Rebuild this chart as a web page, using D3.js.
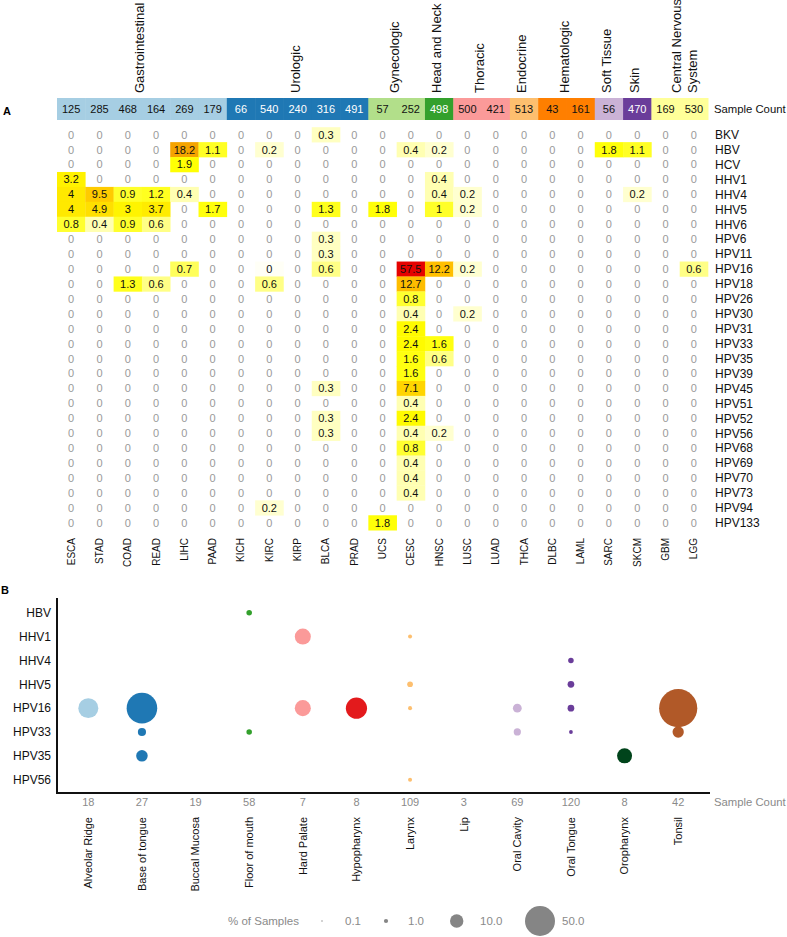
<!DOCTYPE html>
<html>
<head>
<meta charset="utf-8">
<script src="https://cdn.jsdelivr.net/npm/d3@7"></script>
<style>
  html, body { margin: 0; padding: 0; background: #fff; }
  svg { display: block; font-family: "Liberation Sans", Arial, Helvetica, sans-serif; }
</style>
</head>
<body>
<svg id="chart" width="787" height="937"></svg>
<script>
// ---------------- Panel A data ----------------
const cancers = ["ESCA","STAD","COAD","READ","LIHC","PAAD","KICH","KIRC","KIRP","BLCA","PRAD","UCS","CESC","HNSC","LUSC","LUAD","THCA","DLBC","LAML","SARC","SKCM","GBM","LGG"];
const sampleCounts = [125,285,468,164,269,179,66,540,240,316,491,57,252,498,500,421,513,43,161,56,470,169,530];
const groupNames = ["Gastrointestinal","Urologic","Gynecologic","Head and Neck","Thoracic","Endocrine","Hematologic","Soft Tissue","Skin","Central Nervous|System"];
const groupSizes = [6,5,2,1,2,1,2,1,1,2];
const groupColors = ["#a6cee3","#1f78b4","#b2df8a","#33a02c","#fb9a99","#fdbf6f","#ff7f00","#cab2d6","#6a3d9a","#ffff99"];
const groupTextColors = ["#111","#fff","#111","#fff","#111","#111","#111","#111","#fff","#111"];
const viruses = ["BKV","HBV","HCV","HHV1","HHV4","HHV5","HHV6","HPV6","HPV11","HPV16","HPV18","HPV26","HPV30","HPV31","HPV33","HPV35","HPV39","HPV45","HPV51","HPV52","HPV56","HPV68","HPV69","HPV70","HPV73","HPV94","HPV133"];
// rows = viruses, columns = cancers (% of samples)
const heatValues = [
  [0,0,0,0,0,0,0,0,0,0.3,0,0,0,0,0,0,0,0,0,0,0,0,0],            // BKV
  [0,0,0,0,18.2,1.1,0,0.2,0,0,0,0,0.4,0.2,0,0,0,0,0,1.8,1.1,0,0],  // HBV
  [0,0,0,0,1.9,0,0,0,0,0,0,0,0,0,0,0,0,0,0,0,0,0,0],             // HCV
  [3.2,0,0,0,0,0,0,0,0,0,0,0,0,0.4,0,0,0,0,0,0,0,0,0],           // HHV1
  [4,9.5,0.9,1.2,0.4,0,0,0,0,0,0,0,0,0.4,0.2,0,0,0,0,0,0.2,0,0], // HHV4
  [4,4.9,3,3.7,0,1.7,0,0,0,1.3,0,1.8,0,1,0.2,0,0,0,0,0,0,0,0],   // HHV5
  [0.8,0.4,0.9,0.6,0,0,0,0,0,0,0,0,0,0,0,0,0,0,0,0,0,0,0],       // HHV6
  [0,0,0,0,0,0,0,0,0,0.3,0,0,0,0,0,0,0,0,0,0,0,0,0],             // HPV6
  [0,0,0,0,0,0,0,0,0,0.3,0,0,0,0,0,0,0,0,0,0,0,0,0],             // HPV11
  [0,0,0,0,0.7,0,0,0.04,0,0.6,0,0,57.5,12.2,0.2,0,0,0,0,0,0,0,0.6], // HPV16
  [0,0,1.3,0.6,0,0,0,0.6,0,0,0,0,12.7,0,0,0,0,0,0,0,0,0,0],      // HPV18
  [0,0,0,0,0,0,0,0,0,0,0,0,0.8,0,0,0,0,0,0,0,0,0,0],             // HPV26
  [0,0,0,0,0,0,0,0,0,0,0,0,0.4,0,0.2,0,0,0,0,0,0,0,0],           // HPV30
  [0,0,0,0,0,0,0,0,0,0,0,0,2.4,0,0,0,0,0,0,0,0,0,0],             // HPV31
  [0,0,0,0,0,0,0,0,0,0,0,0,2.4,1.6,0,0,0,0,0,0,0,0,0],           // HPV33
  [0,0,0,0,0,0,0,0,0,0,0,0,1.6,0.6,0,0,0,0,0,0,0,0,0],           // HPV35
  [0,0,0,0,0,0,0,0,0,0,0,0,1.6,0,0,0,0,0,0,0,0,0,0],             // HPV39
  [0,0,0,0,0,0,0,0,0,0.3,0,0,7.1,0,0,0,0,0,0,0,0,0,0],           // HPV45
  [0,0,0,0,0,0,0,0,0,0,0,0,0.4,0,0,0,0,0,0,0,0,0,0],             // HPV51
  [0,0,0,0,0,0,0,0,0,0.3,0,0,2.4,0,0,0,0,0,0,0,0,0,0],           // HPV52
  [0,0,0,0,0,0,0,0,0,0.3,0,0,0.4,0.2,0,0,0,0,0,0,0,0,0],         // HPV56
  [0,0,0,0,0,0,0,0,0,0,0,0,0.8,0,0,0,0,0,0,0,0,0,0],             // HPV68
  [0,0,0,0,0,0,0,0,0,0,0,0,0.4,0,0,0,0,0,0,0,0,0,0],             // HPV69
  [0,0,0,0,0,0,0,0,0,0,0,0,0.4,0,0,0,0,0,0,0,0,0,0],             // HPV70
  [0,0,0,0,0,0,0,0,0,0,0,0,0.4,0,0,0,0,0,0,0,0,0,0],             // HPV73
  [0,0,0,0,0,0,0,0.2,0,0,0,0,0,0,0,0,0,0,0,0,0,0,0],             // HPV94
  [0,0,0,0,0,0,0,0,0,0,0,1.8,0,0,0,0,0,0,0,0,0,0,0]              // HPV133
];

// ---------------- Panel B data ----------------
const bViruses = ["HBV","HHV1","HHV4","HHV5","HPV16","HPV33","HPV35","HPV56"];
const sites = ["Alveolar Ridge","Base of tongue","Buccal Mucosa","Floor of mouth","Hard Palate","Hypopharynx","Larynx","Lip","Oral Cavity","Oral Tongue","Oropharynx","Tonsil"];
const siteCounts = [18,27,19,58,7,8,109,3,69,120,8,42];
const siteColors = ["#a6cee3","#1f78b4","#b2df8a","#33a02c","#fb9a99","#e31a1c","#fdbf6f","#ff7f00","#cab2d6","#6a3d9a","#00441b","#b15928"];
const bubbleVirus = ["HBV","HHV1","HHV1","HHV4","HHV5","HHV5","HPV16","HPV16","HPV16","HPV16","HPV16","HPV16","HPV16","HPV16","HPV33","HPV33","HPV33","HPV33","HPV33","HPV35","HPV35","HPV56"];
const bubbleSite  = ["Floor of mouth","Hard Palate","Larynx","Oral Tongue","Larynx","Oral Tongue","Alveolar Ridge","Base of tongue","Hard Palate","Hypopharynx","Larynx","Oral Cavity","Oral Tongue","Tonsil","Base of tongue","Floor of mouth","Oral Cavity","Oral Tongue","Tonsil","Base of tongue","Oropharynx","Larynx"];
const bubblePct   = [1.7,14.3,0.9,1.7,1.8,2.5,22.2,51.9,14.3,25,0.9,4.3,2.5,81,3.7,1.7,2.9,0.8,7.1,7.4,12.5,0.9];
const legendValues = [0.1,1.0,10.0,50.0];

// ---------------- Drawing ----------------
const svg = d3.select("#chart");
const FONT_GRAY = "#9a9a9a";

// Panel labels
svg.append("text").attr("x", 3).attr("y", 115).attr("font-size", 11).attr("font-weight", "bold").text("A");
svg.append("text").attr("x", 1).attr("y", 594).attr("font-size", 11).attr("font-weight", "bold").text("B");

// ---- Panel A ----
const x = d3.scaleBand().domain(cancers).range([57, 708]);
const y = d3.scaleBand().domain(viruses).range([127.2, 530.2]);
const bw = x.bandwidth();

const cancerGroup = [];
groupSizes.forEach((n, gi) => { for (let k = 0; k < n; k++) cancerGroup.push(gi); });

const bar = svg.append("g");
bar.selectAll("rect").data(cancers).join("rect")
  .attr("x", d => x(d)).attr("y", 98).attr("width", bw + 0.5).attr("height", 22)
  .attr("fill", (d, i) => groupColors[cancerGroup[i]]);
bar.selectAll("text").data(cancers).join("text")
  .attr("x", d => x(d) + bw / 2).attr("y", 109).attr("dy", "0.36em")
  .attr("text-anchor", "middle").attr("font-size", 11)
  .attr("fill", (d, i) => groupTextColors[cancerGroup[i]])
  .text((d, i) => sampleCounts[i]);
svg.append("text").attr("x", 714).attr("y", 109).attr("dy", "0.36em").attr("font-size", 11.3).attr("fill", "#111").text("Sample Count");

// group labels
let start = 0;
groupNames.forEach((name, gi) => {
  const first = cancers[start], last = cancers[start + groupSizes[gi] - 1];
  const cx = (x(first) + x(last) + bw) / 2 - 2.5;
  const lines = name.split("|");
  lines.forEach((ln, li) => {
    const lx = lines.length > 1 ? cx - 0.5 + li * 16 : cx;
    svg.append("text")
      .attr("transform", `translate(${lx},93) rotate(-90)`)
      .attr("dy", "0.35em").attr("font-size", 13).attr("fill", "#111")
      .text(ln);
  });
  start += groupSizes[gi];
});

const heatColor = d3.scaleLinear()
  .domain([0, 0.2, 0.4, 0.6, 0.8, 2, 5, 12, 20, 58])
  .range(["#ffffff","#ffffd0","#ffffb2","#ffff86","#ffff30","#ffff00","#ffde00","#ffc000","#f29c00","#e50000"]);
const fmt = d3.format(".1~f");

const cells = [];
viruses.forEach((v, ri) => cancers.forEach((c, ci) => cells.push({ v, c, val: heatValues[ri][ci] })));

const heat = svg.append("g");
heat.selectAll("rect").data(cells.filter(d => d.val > 0)).join("rect")
  .attr("x", d => x(d.c)).attr("y", d => y(d.v))
  .attr("width", bw + 0.3).attr("height", y.bandwidth() + 0.3)
  .attr("fill", d => heatColor(d.val));
heat.selectAll("text").data(cells).join("text")
  .attr("x", d => x(d.c) + bw / 2).attr("y", d => y(d.v) + y.bandwidth() / 2).attr("dy", "0.36em")
  .attr("text-anchor", "middle").attr("font-size", 11)
  .attr("fill", d => d.val > 0 ? "#111" : FONT_GRAY)
  .text(d => fmt(d.val));

svg.append("g").selectAll("text").data(viruses).join("text")
  .attr("x", 715).attr("y", d => y(d) + y.bandwidth() / 2).attr("dy", "0.36em")
  .attr("font-size", 12).attr("fill", "#111").text(d => d);

svg.append("g").selectAll("text").data(cancers).join("text")
  .attr("transform", d => `translate(${x(d) + bw / 2},538) rotate(-90)`)
  .attr("dy", "0.35em").attr("text-anchor", "end").attr("font-size", 10).attr("fill", "#111")
  .text(d => d);

// ---- Panel B ----
const xb = d3.scaleBand().domain(sites).range([61.5, 705]);
const yb = d3.scalePoint().domain(bViruses).range([612.7, 779.7]);
const rScale = d3.scaleSqrt().domain([0, 50]).range([0, 15]);
const xc = d => xb(d) + xb.bandwidth() / 2;

svg.append("line").attr("x1", 57).attr("x2", 57).attr("y1", 598).attr("y2", 794).attr("stroke", "#111").attr("stroke-width", 2);
svg.append("line").attr("x1", 56).attr("x2", 710).attr("y1", 793).attr("y2", 793).attr("stroke", "#111").attr("stroke-width", 2);

svg.append("g").selectAll("text").data(bViruses).join("text")
  .attr("x", 51).attr("y", d => yb(d)).attr("dy", "0.36em").attr("text-anchor", "end")
  .attr("font-size", 12).attr("fill", "#111").text(d => d);

svg.append("g").selectAll("text").data(sites).join("text")
  .attr("x", d => xc(d)).attr("y", 802).attr("dy", "0.36em").attr("text-anchor", "middle")
  .attr("font-size", 11).attr("fill", "#8a8a8a").text((d, i) => siteCounts[i]);
svg.append("text").attr("x", 714).attr("y", 802).attr("dy", "0.36em").attr("font-size", 11.3).attr("fill", "#8a8a8a").text("Sample Count");

svg.append("g").selectAll("text").data(sites).join("text")
  .attr("transform", d => `translate(${xc(d)},817) rotate(-90)`)
  .attr("dy", "0.35em").attr("text-anchor", "end").attr("font-size", 11).attr("fill", "#111")
  .text(d => d);

const bubbles = bubblePct.map((p, i) => ({ v: bubbleVirus[i], s: bubbleSite[i], p }));
svg.append("g").selectAll("circle").data(bubbles).join("circle")
  .attr("cx", d => xc(d.s)).attr("cy", d => yb(d.v)).attr("r", d => rScale(d.p))
  .attr("fill", d => siteColors[sites.indexOf(d.s)]);

svg.append("text").attr("x", 228).attr("y", 921).attr("dy", "0.36em").attr("font-size", 11.5).attr("fill", "#8a8a8a").text("% of Samples");
const legX = [322, 386, 456.7, 540];
const legLabelX = [345, 408, 480, 562];
const leg = svg.append("g");
leg.selectAll("circle").data(legendValues).join("circle")
  .attr("cx", (d, i) => legX[i]).attr("cy", 921).attr("r", d => rScale(d)).attr("fill", "#858585");
leg.selectAll("text").data(legendValues).join("text")
  .attr("x", (d, i) => legLabelX[i]).attr("y", 921).attr("dy", "0.36em")
  .attr("font-size", 11.5).attr("fill", "#8a8a8a").text(d => d3.format(".1f")(d));
</script>
</body>
</html>
